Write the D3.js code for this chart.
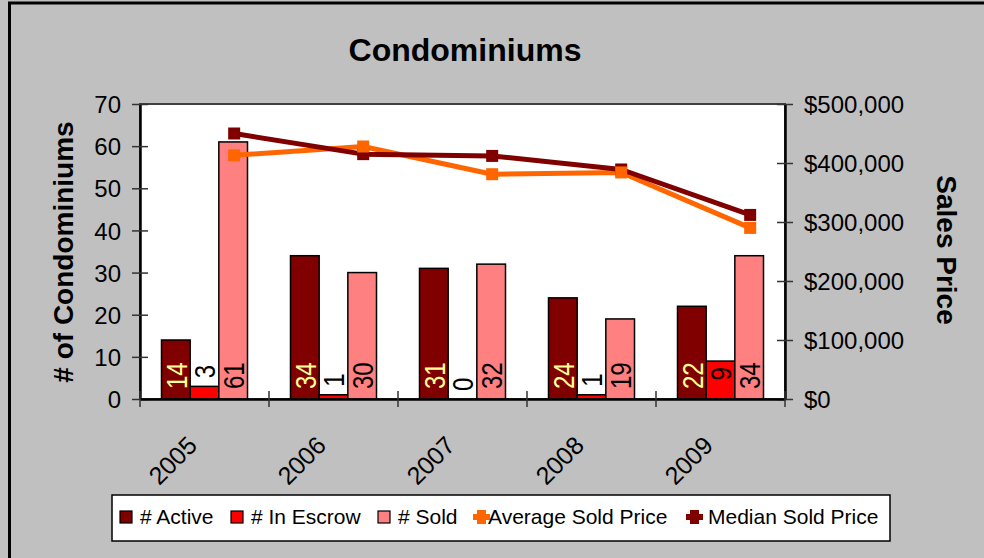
<!DOCTYPE html>
<html>
<head>
<meta charset="utf-8">
<script src="https://cdn.jsdelivr.net/npm/d3@7"></script>
<style>
  html, body { margin: 0; padding: 0; background: #C0C0C0; }
  svg { display: block; font-family: "Liberation Sans", Arial, sans-serif; }
</style>
</head>
<body>
<svg id="chart" width="984" height="558"></svg>
<script>
// ---- data ----
const years = ["2005", "2006", "2007", "2008", "2009"];
const activeCounts = [14, 34, 31, 24, 22];
const escrowCounts = [3, 1, 0, 1, 9];
const soldCounts = [61, 30, 32, 19, 34];
const avgSoldPrice = [413000, 428000, 381000, 384000, 290000];
const medianSoldPrice = [450000, 415000, 412000, 389000, 312000];
const leftTicks = [0, 10, 20, 30, 40, 50, 60, 70];
const rightTicks = [0, 100000, 200000, 300000, 400000, 500000];
const barSeries = ["# Active", "# In Escrow", "# Sold"];
const lineSeries = ["Average Sold Price", "Median Sold Price"];

const colors = {
  "# Active": "#800000",
  "# In Escrow": "#FF0000",
  "# Sold": "#FF8080",
  "Average Sold Price": "#FF6600",
  "Median Sold Price": "#800000"
};

const svg = d3.select("#chart");
const W = 984, H = 558;

// outer chart border
svg.append("rect").attr("x", 0).attr("y", 0).attr("width", W).attr("height", H).attr("fill", "#C0C0C0");
svg.append("path").attr("d", `M9.5,${H} V3 H${W}`).attr("fill", "none").attr("stroke", "#000").attr("stroke-width", 3);

const plot = { left: 140, right: 785, top: 104, bottom: 399 };

const x = d3.scaleBand().domain(years).range([plot.left, plot.right]).paddingInner(0).paddingOuter(0);
const bw = x.bandwidth();
const barW = bw / 4.5; // gap width 150%
const xs = d3.scaleBand().domain(barSeries).range([0.75 * barW, 3.75 * barW]).padding(0);
const yL = d3.scaleLinear().domain([0, 70]).range([plot.bottom, plot.top]);
const yR = d3.scaleLinear().domain([0, 500000]).range([plot.bottom, plot.top]);

// plot area
svg.append("rect")
  .attr("x", plot.left).attr("y", plot.top)
  .attr("width", plot.right - plot.left).attr("height", plot.bottom - plot.top)
  .attr("fill", "#fff").attr("stroke", "#404040").attr("stroke-width", 2);

// title
svg.append("text").attr("x", 465).attr("y", 61).attr("text-anchor", "middle")
  .attr("font-size", 32).attr("font-weight", "bold").attr("fill", "#000").text("Condominiums");

// bars
const seriesData = [activeCounts, escrowCounts, soldCounts];
const barsG = svg.append("g");
years.forEach((yr, i) => {
  barSeries.forEach((s, j) => {
    const v = seriesData[j][i];
    const bx = x(yr) + xs(s);
    barsG.append("rect")
      .attr("x", bx).attr("y", yL(v))
      .attr("width", xs.bandwidth()).attr("height", yL(0) - yL(v))
      .attr("fill", colors[s]).attr("stroke", "#000").attr("stroke-width", 1.5);
  });
});

// axes
const axL = d3.axisLeft(yL).tickValues(leftTicks).tickSize(0).tickFormat(d3.format("d"));
const gL = svg.append("g").attr("transform", `translate(${plot.left},0)`).call(axL);
gL.select(".domain").attr("stroke", "#000").attr("stroke-width", 2.5);
gL.selectAll("text").attr("x", -19).attr("font-size", 24).attr("fill", "#000").attr("font-family", "Liberation Sans, Arial, sans-serif").attr("dy", "0.36em");
gL.selectAll(".tick").append("line").attr("x1", -8).attr("x2", 8).attr("stroke", "#333").attr("stroke-width", 1.5);

const axR = d3.axisRight(yR).tickValues(rightTicks).tickSize(0).tickFormat(d => "$" + d3.format(",")(d));
const gR = svg.append("g").attr("transform", `translate(${plot.right},0)`).call(axR);
gR.select(".domain").attr("stroke", "#000").attr("stroke-width", 2.5);
gR.selectAll("text").attr("x", 19).attr("font-size", 24).attr("fill", "#000").attr("font-family", "Liberation Sans, Arial, sans-serif").attr("dy", "0.36em");
gR.selectAll(".tick").append("line").attr("x1", -8).attr("x2", 8).attr("stroke", "#333").attr("stroke-width", 1.5);

// bottom axis
const axB = d3.axisBottom(x).tickSize(0).tickFormat("");
const gB = svg.append("g").attr("transform", `translate(0,${plot.bottom})`).call(axB);
gB.select(".domain").attr("stroke", "#000").attr("stroke-width", 2.5);
gB.selectAll(".tick").remove();
const boundaries = years.map(y => x(y)).concat([plot.right]);
gB.selectAll("line.b").data(boundaries).enter().append("line")
  .attr("x1", d => d).attr("x2", d => d).attr("y1", -8).attr("y2", 8)
  .attr("stroke", "#333").attr("stroke-width", 1.5);
// year labels
svg.append("g").selectAll("text").data(years).enter().append("text")
  .attr("transform", d => `translate(${x(d) + bw / 2 - 6},447) rotate(-45)`)
  .attr("text-anchor", "end").attr("font-size", 25).attr("fill", "#000").text(d => d);

// axis titles
svg.append("text").attr("transform", "translate(63,252) rotate(-90)")
  .attr("text-anchor", "middle").attr("dominant-baseline", "central")
  .attr("font-size", 28).attr("font-weight", "bold").text("# of Condominiums");
svg.append("text").attr("transform", "translate(946,250) rotate(90)")
  .attr("text-anchor", "middle").attr("dominant-baseline", "central")
  .attr("font-size", 28).attr("font-weight", "bold").text("Sales Price");

// lines
const lineX = (yr) => x(yr) + bw * 0.73;
const lineGen = (vals) => d3.line().x((d, i) => lineX(years[i])).y(d => yR(d))(vals);
[["Average Sold Price", avgSoldPrice], ["Median Sold Price", medianSoldPrice]].forEach(([name, vals]) => {
  svg.append("path").attr("d", lineGen(vals)).attr("fill", "none")
    .attr("stroke", colors[name]).attr("stroke-width", 5).attr("stroke-linejoin", "round");
});
[["Median Sold Price", medianSoldPrice], ["Average Sold Price", avgSoldPrice]].forEach(([name, vals]) => {
  svg.append("g").selectAll("rect").data(vals).enter().append("rect")
    .attr("x", (d, i) => lineX(years[i]) - 6).attr("y", d => yR(d) - 6)
    .attr("width", 12).attr("height", 12).attr("fill", colors[name]);
});

// data labels
const labG = svg.append("g");
const labelFont = 30, labelScale = 0.8;
function addLabel(cx, y, anchor, txt, color) {
  labG.append("g").attr("transform", `translate(${cx},${y}) rotate(-90)`)
    .append("text").attr("transform", `scale(${labelScale},1)`)
    .attr("text-anchor", anchor).attr("dy", "0.36em")
    .attr("font-size", labelFont).attr("fill", color).text(txt);
}
years.forEach((yr, i) => {
  const cw = xs.bandwidth() / 2;
  addLabel(x(yr) + xs("# Active") + cw, yL(0) - 10, "start", activeCounts[i], "#FFFF99");
  addLabel(x(yr) + xs("# Sold") + cw, yL(0) - 10, "start", soldCounts[i], "#000");
  const ev = escrowCounts[i];
  const ecx = x(yr) + xs("# In Escrow") + cw;
  if (yL(0) - yL(ev) > 30) {
    addLabel(ecx, yL(ev) + 6, "end", ev, "#000");
  } else {
    addLabel(ecx, yL(ev) - 8, "start", ev, "#000");
  }
});

// legend
const lg = svg.append("g");
lg.append("rect").attr("x", 112).attr("y", 495).attr("width", 778).attr("height", 46)
  .attr("fill", "#fff").attr("stroke", "#000").attr("stroke-width", 1.5);
const legendItems = [
  { name: "# Active", kind: "bar", sx: 120, tx: 140 },
  { name: "# In Escrow", kind: "bar", sx: 231, tx: 251 },
  { name: "# Sold", kind: "bar", sx: 378, tx: 398 },
  { name: "Average Sold Price", kind: "line", sx: 473, tx: 488 },
  { name: "Median Sold Price", kind: "line", sx: 686, tx: 708 }
];
legendItems.forEach(it => {
  if (it.kind === "bar") {
    lg.append("rect").attr("x", it.sx).attr("y", 511).attr("width", 12).attr("height", 12)
      .attr("fill", colors[it.name]).attr("stroke", "#000").attr("stroke-width", 1.2);
  } else {
    lg.append("rect").attr("x", it.sx).attr("y", 514).attr("width", 17).attr("height", 6).attr("fill", colors[it.name]);
    lg.append("rect").attr("x", it.sx + 4).attr("y", 510).attr("width", 9).attr("height", 14).attr("fill", colors[it.name]);
  }
  lg.append("text").attr("x", it.tx).attr("y", 524).attr("font-size", 21).attr("fill", "#000").text(it.name);
});
</script>
</body>
</html>
